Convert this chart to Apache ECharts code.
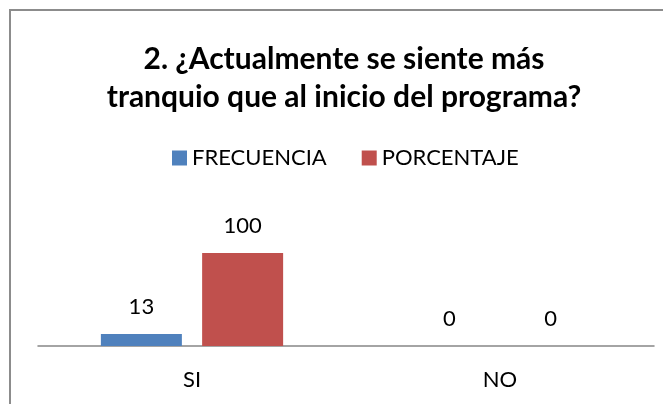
<!DOCTYPE html>
<html>
<head>
<meta charset="utf-8">
<script src="https://cdn.jsdelivr.net/npm/echarts@6/dist/echarts.min.js"></script>
<style>
    html, body { margin: 0; padding: 0; background: #fff; overflow: hidden; }
    #chart { width: 663px; height: 404px; }
    .frame {
        position: absolute;
        left: 9px;
        top: 9px;
        width: 700px;
        height: 450px;
        border: 2px solid #8c8c8c;
        pointer-events: none;
    }
</style>
</head>
<body>
<div id="chart"></div>
<div class="frame"></div>
<script>
// datos del gráfico
const categorias = ['SI', 'NO'];
const frecuencia = [13, 0];
const porcentaje = [100, 0];

const fuente = 'Lato, "Open Sans", sans-serif';

let mychart = echarts.init(document.getElementById('chart'));
mychart.setOption({
    animation: false,
    title: {
        text: '2. ¿Actualmente se siente más\ntranquio que al inicio del programa?',
        left: 339,
        textAlign: 'center',
        top: 35,
        textStyle: {
            color: '#000',
            fontSize: 30,
            fontWeight: 'bold',
            fontFamily: fuente,
            lineHeight: 38
        }
    },
    legend: {
        top: 142,
        left: 167,
        itemWidth: 15,
        itemHeight: 15,
        itemGap: 35,
        icon: 'rect',
        textStyle: {
            color: '#000',
            fontSize: 22,
            fontFamily: fuente
        },
        data: ['FRECUENCIA', 'PORCENTAJE']
    },
    grid: {
        left: 38,
        right: 9,
        top: 253,
        bottom: 58
    },
    xAxis: {
        type: 'category',
        data: categorias,
        axisLine: { lineStyle: { color: '#868686', width: 1.5 } },
        axisTick: { show: false },
        axisLabel: {
            color: '#000',
            fontSize: 22,
            fontFamily: fuente,
            margin: 23
        }
    },
    yAxis: {
        type: 'value',
        min: 0,
        max: 100,
        show: false
    },
    series: [
        {
            name: 'FRECUENCIA',
            type: 'bar',
            data: frecuencia,
            barWidth: 81,
            barGap: '25%',
            itemStyle: { color: '#4F81BD' },
            label: {
                show: true,
                position: 'top',
                distance: 16,
                color: '#000',
                fontSize: 22,
                fontFamily: fuente
            }
        },
        {
            name: 'PORCENTAJE',
            type: 'bar',
            data: porcentaje,
            barWidth: 81,
            itemStyle: { color: '#C0504D' },
            label: {
                show: true,
                position: 'top',
                distance: 16,
                color: '#000',
                fontSize: 22,
                fontFamily: fuente
            }
        }
    ]
});
</script>
</body>
</html>
